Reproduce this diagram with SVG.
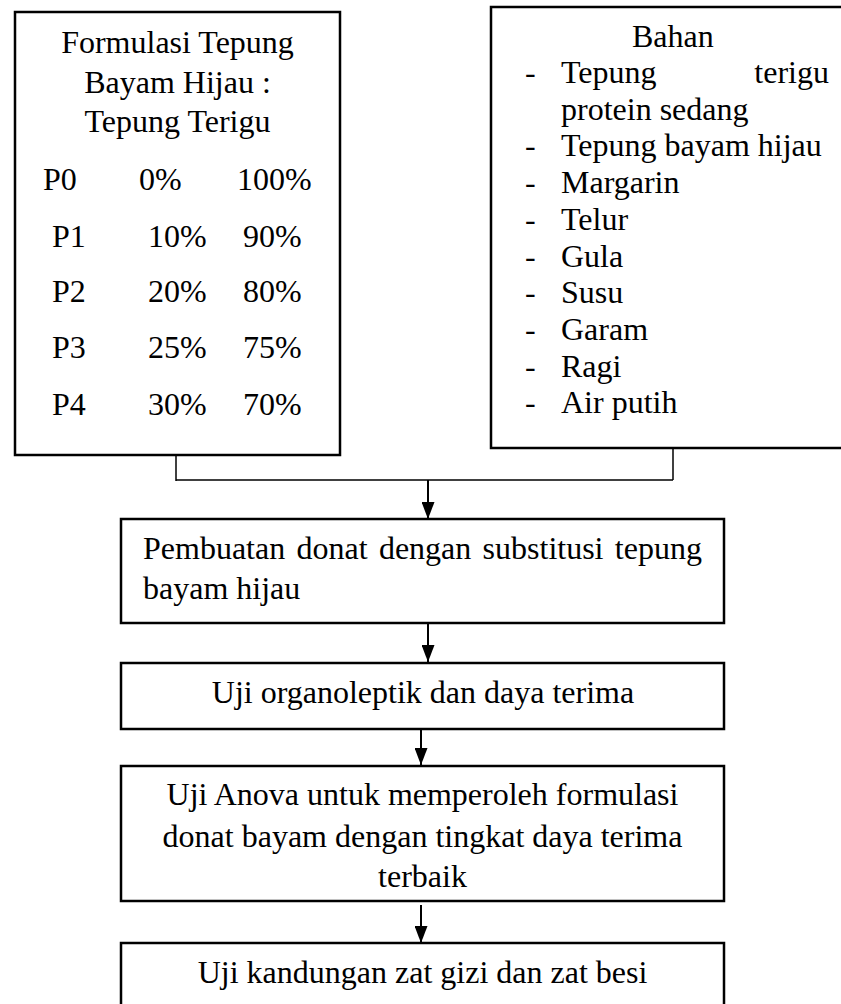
<svg xmlns="http://www.w3.org/2000/svg" width="841" height="1004" viewBox="0 0 841 1004">
<style>
.box{fill:#fff;stroke:#000;stroke-width:2.5}
.t{font-family:"Liberation Serif","Times New Roman",serif;font-size:32px;fill:#000}
.c{text-anchor:middle}
.ln{stroke:#000;stroke-width:1.5;fill:none}
.ar{stroke:#000;stroke-width:2;fill:none}
</style>
<defs>
<marker id="ah" markerUnits="userSpaceOnUse" markerWidth="17" markerHeight="13" refX="17" refY="6.5" orient="auto">
<path d="M0,0 L17,6.5 L0,13 z" fill="#000"/>
</marker>
</defs>
<g id="formulasi">
<rect class="box" x="15" y="12" width="325" height="443"/>
<text class="t c" x="177.5" y="53">Formulasi Tepung</text>
<text class="t c" x="177.5" y="93">Bayam Hijau :</text>
<text class="t c" x="177.5" y="132">Tepung Terigu</text>
<text class="t" x="43" y="190">P0</text><text class="t" x="139" y="190">0%</text><text class="t" x="237" y="190">100%</text>
<text class="t" x="52" y="247">P1</text><text class="t" x="148" y="247">10%</text><text class="t" x="243" y="247">90%</text>
<text class="t" x="52" y="302">P2</text><text class="t" x="148" y="302">20%</text><text class="t" x="243" y="302">80%</text>
<text class="t" x="52" y="358">P3</text><text class="t" x="148" y="358">25%</text><text class="t" x="243" y="358">75%</text>
<text class="t" x="52" y="415">P4</text><text class="t" x="148" y="415">30%</text><text class="t" x="243" y="415">70%</text>
</g>
<g id="bahan">
<rect class="box" x="491" y="7" width="360" height="441"/>
<text class="t" x="632" y="47">Bahan</text>
<text class="t" x="525" y="83">-</text><text class="t" x="561" y="83">Tepung</text><text class="t" x="829" y="83" text-anchor="end">terigu</text>
<text class="t" x="561" y="119.7">protein sedang</text>
<text class="t" x="525" y="156.4">-</text><text class="t" x="561" y="156.4">Tepung bayam hijau</text>
<text class="t" x="525" y="193.1">-</text><text class="t" x="561" y="193.1">Margarin</text>
<text class="t" x="525" y="229.8">-</text><text class="t" x="561" y="229.8">Telur</text>
<text class="t" x="525" y="266.5">-</text><text class="t" x="561" y="266.5">Gula</text>
<text class="t" x="525" y="303.2">-</text><text class="t" x="561" y="303.2">Susu</text>
<text class="t" x="525" y="339.9">-</text><text class="t" x="561" y="339.9">Garam</text>
<text class="t" x="525" y="376.6">-</text><text class="t" x="561" y="376.6">Ragi</text>
<text class="t" x="525" y="413.3">-</text><text class="t" x="561" y="413.3">Air putih</text>
</g>
<g id="pembuatan">
<rect class="box" x="121" y="519" width="603" height="104"/>
<text class="t" x="143" y="559" word-spacing="3.3">Pembuatan donat dengan substitusi tepung</text>
<text class="t" x="143" y="599">bayam hijau</text>
</g>
<g id="organoleptik">
<rect class="box" x="121" y="663" width="603" height="66"/>
<text class="t c" x="423" y="703">Uji organoleptik dan daya terima</text>
</g>
<g id="anova">
<rect class="box" x="121" y="766" width="603" height="135"/>
<text class="t c" x="422.5" y="805">Uji Anova untuk memperoleh formulasi</text>
<text class="t c" x="422.5" y="847">donat bayam dengan tingkat daya terima</text>
<text class="t c" x="422.5" y="887">terbaik</text>
</g>
<g id="gizi">
<rect class="box" x="121" y="943" width="603" height="80"/>
<text class="t c" x="422.5" y="983">Uji kandungan zat gizi dan zat besi</text>
</g>
<g id="connectors">
<polyline class="ln" points="176,455 176,481"/>
<polyline class="ln" points="673,448 673,480"/>
<line class="ln" x1="176" y1="480" x2="673" y2="480"/>
<line class="ar" x1="428" y1="480" x2="428" y2="519" marker-end="url(#ah)"/>
<line class="ar" x1="428" y1="623" x2="428" y2="662" marker-end="url(#ah)"/>
<line class="ar" x1="421" y1="729" x2="421" y2="765" marker-end="url(#ah)"/>
<line class="ar" x1="421" y1="905" x2="421" y2="943" marker-end="url(#ah)"/>
</g>
</svg>
